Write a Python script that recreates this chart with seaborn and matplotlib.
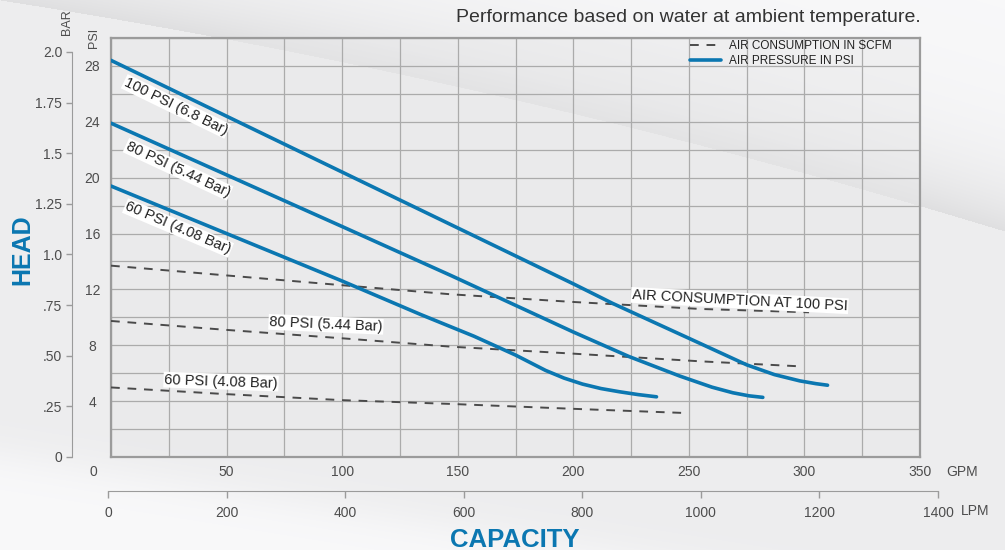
"""
Pump performance curve: head vs capacity with air consumption lines.
"""

import numpy as np
import pandas as pd
import matplotlib
matplotlib.use("Agg")
import matplotlib.pyplot as plt
import matplotlib.transforms as mtransforms
from matplotlib.lines import Line2D
import seaborn as sns

# ── Data ─────────────────────────────────────────────────────────────────────
gpm_100 = [0, 50, 100, 150, 200, 217, 250, 275, 287, 298, 305, 310]
psi_100 = [28.4, 24.4, 20.4, 16.4, 12.4, 11.0, 8.5, 6.6, 5.9, 5.45, 5.25, 5.14]

gpm_80 = [0, 50, 100, 147, 200, 224, 246, 260, 269, 276, 282]
psi_80 = [23.9, 20.2, 16.5, 13.0, 8.95, 7.2, 5.8, 5.0, 4.6, 4.38, 4.27]

gpm_60 = [0, 50, 100, 134, 157, 175, 188, 196, 204, 212, 220, 228, 236]
psi_60 = [19.4, 16.0, 12.6, 10.2, 8.65, 7.3, 6.2, 5.65, 5.22, 4.9, 4.67, 4.47, 4.31]

air_gpm_100 = [0, 50, 100, 147, 200, 255, 302]
air_100 = [13.7, 13.0, 12.3, 11.65, 11.1, 10.6, 10.36]
air_gpm_80 = [0, 50, 100, 147, 200, 255, 297]
air_80 = [9.74, 9.1, 8.5, 7.9, 7.4, 6.85, 6.5]
air_gpm_60 = [0, 50, 100, 147, 200, 250]
air_60 = [4.98, 4.5, 4.07, 3.8, 3.45, 3.14]

gpm_ticks = [0, 50, 100, 150, 200, 250, 300, 350]
psi_ticks = [4, 8, 12, 16, 20, 24, 28]
bar_ticks = [0, 0.25, 0.5, 0.75, 1.0, 1.25, 1.5, 1.75, 2.0]
bar_labels = ['0', '.25', '.50', '.75', '1.0', '1.25', '1.5', '1.75', '2.0']
lpm_ticks = [0, 200, 400, 600, 800, 1000, 1200, 1400]

# ── Style ────────────────────────────────────────────────────────────────────
BLUE = '#0b77b1'
DASH = '#4a4a4a'
GRID = '#ababab'
TICK = '#4d4d4d'
PSI_PER_BAR = 14.5038

sns.set_style('white')
plt.rcParams['font.family'] = ['Liberation Sans', 'DejaVu Sans']

W, H = 1005, 550
fig = plt.figure(figsize=(W / 100, H / 100), dpi=100)

# background with soft swooshes
bg = fig.add_axes([0, 0, 1, 1], zorder=-10)
yy, xx = np.mgrid[0:H, 0:W].astype(float)
edge = 7.5e-5 * xx ** 2 + 0.155 * xx
v = np.where(yy < edge, 0.975 - 0.10 * np.exp(-(edge - yy) / 60.0), 0.93)
low = 455 + 0.16 * xx
v = v + 0.045 / (1 + np.exp(-(yy - low) / 12.0))
v = np.clip(v, 0, 1)
bg.imshow(np.dstack([v, v, v + 0.005]).clip(0, 1), aspect='auto',
          extent=[0, 1, 0, 1], origin='upper')
bg.axis('off')

# ── Main plot (GPM vs PSI) ───────────────────────────────────────────────────
ax = fig.add_axes([111 / W, 1 - 457 / H, 809 / W, 419 / H])
ax.set_facecolor((0.91, 0.91, 0.915, 0.45))

solid = pd.concat([
    pd.DataFrame({'gpm': gpm_100, 'psi': psi_100, 'curve': '100'}),
    pd.DataFrame({'gpm': gpm_80, 'psi': psi_80, 'curve': '80'}),
    pd.DataFrame({'gpm': gpm_60, 'psi': psi_60, 'curve': '60'}),
])
air = pd.concat([
    pd.DataFrame({'gpm': air_gpm_100, 'psi': air_100, 'curve': '100'}),
    pd.DataFrame({'gpm': air_gpm_80, 'psi': air_80, 'curve': '80'}),
    pd.DataFrame({'gpm': air_gpm_60, 'psi': air_60, 'curve': '60'}),
])

sns.lineplot(data=air, x='gpm', y='psi', units='curve', estimator=None,
             color=DASH, lw=1.4, dashes=False, legend=False, ax=ax, zorder=3)
for ln in ax.get_lines():
    ln.set_dashes((4.5, 4))
sns.lineplot(data=solid, x='gpm', y='psi', units='curve', estimator=None,
             color=BLUE, lw=2.6, legend=False, ax=ax, zorder=4)
for ln in ax.get_lines():
    ln.set_solid_joinstyle('round')

ax.set_xlim(0, 350)
ax.set_ylim(0, 30)
ax.set_xticks(gpm_ticks)
ax.set_xticks(np.arange(0, 351, 25), minor=True)
ax.set_yticks(psi_ticks)
ax.set_yticks(np.arange(0, 31, 2), minor=True)
ax.grid(True, which='both', color=GRID, lw=0.9)
ax.set_axisbelow(True)
ax.tick_params(which='both', length=0)
ax.tick_params(axis='x', pad=6, labelsize=10, labelcolor=TICK)
ax.tick_params(axis='y', pad=13.5, labelsize=10, labelcolor=TICK)
for lab in ax.get_yticklabels():
    lab.set_horizontalalignment('center')
zero = ax.get_xticklabels()[0]
zero.set_transform(zero.get_transform() +
                   mtransforms.ScaledTranslation(-18 / 100, 0, fig.dpi_scale_trans))
ax.set_xlabel('')
ax.set_ylabel('')
for sp in ax.spines.values():
    sp.set_color('#9b9b9b')
    sp.set_linewidth(1.6)

# curve labels
lbl_box = dict(facecolor='white', edgecolor='none', pad=0.6)
curve_labels = [
    ('100 PSI (6.8 Bar)', 28.1, 25.1, -26),
    ('80 PSI (5.44 Bar)', 29.0, 20.6, -25),
    ('60 PSI (4.08 Bar)', 29.0, 16.4, -23),
    ('80 PSI (5.44 Bar)', 93.0, 9.5, -2.5),
    ('60 PSI (4.08 Bar)', 47.6, 5.4, -2),
    ('AIR CONSUMPTION AT 100 PSI', 272.0, 11.2, -3),
]
for txt, gx, py, rot in curve_labels:
    ax.text(gx, py, txt, rotation=rot, rotation_mode='anchor', ha='center',
            va='center', fontsize=10.5, color='#222222', bbox=lbl_box, zorder=5)

# legend
handles = [Line2D([], [], color=DASH, lw=1.4, dashes=(4.5, 4)),
           Line2D([], [], color=BLUE, lw=2.6)]
ax.legend(handles, ['AIR CONSUMPTION IN SCFM', 'AIR PRESSURE IN PSI'],
          loc='upper left', bbox_to_anchor=((690 - 111) / 809, 0.995),
          frameon=False, fontsize=8.5, handlelength=2.6, handletextpad=0.7,
          labelspacing=0.25, borderaxespad=0, borderpad=0, labelcolor='#222222')

# ── BAR axis ─────────────────────────────────────────────────────────────────
bax = fig.add_axes([72 / W, 1 - 457 / H, 0.001, 419 / H])
bax.patch.set_alpha(0)
bax.set_ylim(0, 30 / PSI_PER_BAR)
bax.set_yticks(bar_ticks)
bax.set_yticklabels(bar_labels)
bax.set_xticks([])
for name, sp in bax.spines.items():
    sp.set_visible(name == 'left')
bax.spines['left'].set_color('#9b9b9b')
bax.spines['left'].set_bounds(0, 2.0)
bax.tick_params(axis='y', left=True, direction='out', length=4, width=1,
                color='#9b9b9b', labelsize=10, labelcolor=TICK, pad=3)

# ── LPM axis ─────────────────────────────────────────────────────────────────
lax = fig.add_axes([108 / W, 1 - 491 / H, 830 / W, 0.001])
lax.patch.set_alpha(0)
lax.set_xlim(0, 1400)
lax.set_xticks(lpm_ticks)
lax.set_yticks([])
for name, sp in lax.spines.items():
    sp.set_visible(name == 'bottom')
lax.spines['bottom'].set_color('#9b9b9b')
lax.tick_params(axis='x', bottom=True, direction='out', length=5, width=1,
                color='#9b9b9b', labelsize=10, labelcolor=TICK, pad=6)

# ── Figure texts ─────────────────────────────────────────────────────────────
fig.text(921 / W, 1 - 18 / H, 'Performance based on water at ambient temperature.',
         ha='right', va='center', fontsize=14, color='#333333')
fig.text(962 / W, 1 - 472 / H, 'GPM', ha='center', va='center', fontsize=10, color=TICK)
fig.text(975 / W, 1 - 511 / H, 'LPM', ha='center', va='center', fontsize=10, color=TICK)
fig.text(94 / W, 1 - 38 / H, 'PSI', rotation=90, ha='center', va='center',
         fontsize=9, color=TICK)
fig.text(67 / W, 1 - 22 / H, 'BAR', rotation=90, ha='center', va='center',
         fontsize=9, color=TICK)
fig.text(22 / W, 1 - 250 / H, 'HEAD', rotation=90, ha='center', va='center',
         fontsize=18, fontweight='bold', color=BLUE)
fig.text(515 / W, 1 - 547 / H, 'CAPACITY', ha='center', va='baseline',
         fontsize=18.5, fontweight='bold', color=BLUE)

fig.savefig('out.png', dpi=100)
